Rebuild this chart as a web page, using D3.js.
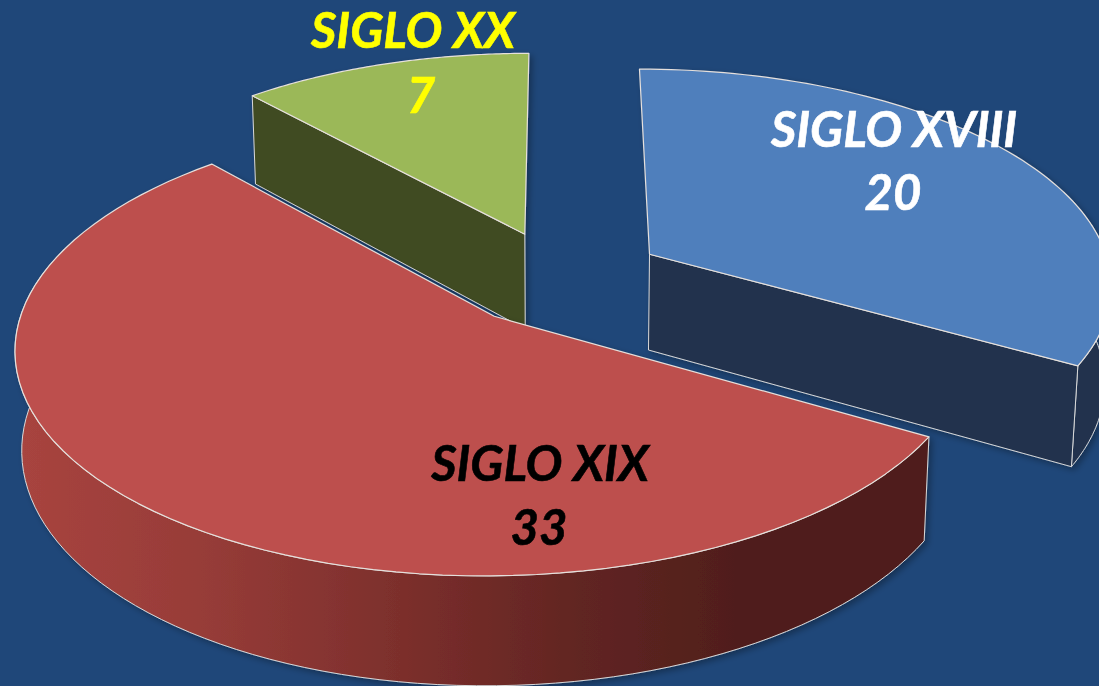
<!DOCTYPE html>
<html>
<head>
<meta charset="utf-8">
<script src="https://cdn.jsdelivr.net/npm/d3@7"></script>
<style>
  html, body { margin: 0; padding: 0; background: #1f4779; overflow: hidden; }
  text { font-family: Lato, "Open Sans", sans-serif; font-weight: 700; font-style: italic; text-anchor: middle; }
</style>
</head>
<body>
<svg id="chart" width="1099" height="686"></svg>
<script>
const categories = ["SIGLO XVIII", "SIGLO XIX", "SIGLO XX"]
const values = [20, 33, 7]

const width = 1099, height = 686

// look of each slice, same order as categories
const top_colors = ["#4f7fbc", "#bd504d", "#9bb859"]
const face_colors = ["#20324e", "#4f1e1c", "#414b23"]
const text_colors = ["#ffffff", "#000000", "#ffff00"]
const label_at = [[894, 147], [540, 481], [413, 48]]
const value_at = [[893, 210], [539, 545], [421, 113]]

// ground plane (u, v, z) to screen, with some perspective
let view = {cx: 561, cy: 278, rx: 463, ky: 215, depth: 98, p: 0.13, q: 0.012}

function project(u, v, z) {
  let d = 1 - view.p * v + view.q * z
  return [
    view.cx + view.rx * u / d,
    view.cy + (view.ky * v + view.depth * z) / d
  ]
}

let line = d3.line()

function rim_points(start, end, off, z) {
  let n = 80
  return d3.range(n + 1).map(i => {
    let a = start + (end - start) * i / n
    return project(off[0] + Math.sin(a), off[1] - Math.cos(a), z)
  })
}

function top_path(slice, off) {
  let rim = rim_points(slice.startAngle, slice.endAngle, off, 0)
  return line([project(off[0], off[1], 0)].concat(rim)) + "Z"
}

function rim_path(start, end, off) {
  return line(rim_points(start, end, off, 0).concat(rim_points(start, end, off, 1).reverse())) + "Z"
}

function face_path(a, off) {
  let u = off[0] + Math.sin(a), v = off[1] - Math.cos(a)
  return line([
    project(off[0], off[1], 0), project(u, v, 0),
    project(u, v, 1), project(off[0], off[1], 1)
  ]) + "Z"
}

function make_defs(svg) {
  let defs = svg.append("defs")
  let shadow = defs.append("filter").attr("id", "shadow")
    .attr("x", "-5%").attr("y", "-5%").attr("width", "110%").attr("height", "110%")
  shadow.append("feDropShadow")
    .attr("dx", 3).attr("dy", 3).attr("stdDeviation", 3)
    .attr("flood-color", "#000").attr("flood-opacity", 0.3)

  let grad = defs.append("linearGradient").attr("id", "red_rim")
    .attr("gradientUnits", "userSpaceOnUse")
    .attr("x1", 20).attr("x2", 925).attr("y1", 0).attr("y2", 0)
  let stops = [[0, "#a8443f"], [0.2, "#973c38"], [0.42, "#7c2f2c"], [0.62, "#612522"], [0.8, "#4f1e1c"], [1, "#4f1e1c"]]
  grad.selectAll("stop").data(stops).enter().append("stop")
    .attr("offset", d => d[0])
    .attr("stop-color", d => d[1])
}

function draw_slices(svg, slices) {
  // painter's order: the two back slices first, red one last
  let order = [0, 2, 1]
  let explode = 0.224
  order.forEach(i => {
    let s = slices[i]
    let mid = (s.startAngle + s.endAngle) / 2
    let off = [explode * Math.sin(mid), -explode * Math.cos(mid)]
    let g = svg.append("g").attr("filter", "url(#shadow)")

    // only the front of the rim can be seen, a bit past the sides because of perspective
    let start = Math.max(s.startAngle, Math.PI * 0.4)
    let end = Math.min(s.endAngle, Math.PI * 1.6)
    if (start < end) {
      g.append("path")
        .attr("d", rim_path(start, end, off))
        .attr("fill", i == 1 ? "url(#red_rim)" : face_colors[i])
        .attr("stroke", "#d8d8d8").attr("stroke-width", 1)
    }

    // cut face that looks at the viewer
    if (i != 1) {
      let a = i == 0 ? s.endAngle : s.startAngle
      g.append("path")
        .attr("d", face_path(a, off))
        .attr("fill", face_colors[i])
        .attr("stroke", "#d8d8d8").attr("stroke-width", 1)
    }

    g.append("path")
      .attr("d", top_path(s, off))
      .attr("fill", top_colors[i])
      .attr("stroke", "#e6e0dc").attr("stroke-width", 1.2)
      .attr("stroke-linejoin", "round")
  })
}

function draw_labels(svg) {
  categories.forEach((c, i) => {
    svg.append("text")
      .attr("x", label_at[i][0]).attr("y", label_at[i][1])
      .attr("font-size", 49).attr("fill", text_colors[i])
      .attr("stroke", text_colors[i]).attr("stroke-width", 0.6)
      .text(c)
    svg.append("text")
      .attr("x", value_at[i][0]).attr("y", value_at[i][1])
      .attr("font-size", 49).attr("fill", text_colors[i])
      .attr("stroke", text_colors[i]).attr("stroke-width", 0.6)
      .text(values[i])
  })
}

function visualize() {
  let svg = d3.select("#chart")
  svg.append("rect").attr("width", width).attr("height", height).attr("fill", "#1f4779")
  make_defs(svg)
  let slices = d3.pie().sort(null)(values)
  draw_slices(svg, slices)
  draw_labels(svg)
}

visualize()
</script>
</body>
</html>
